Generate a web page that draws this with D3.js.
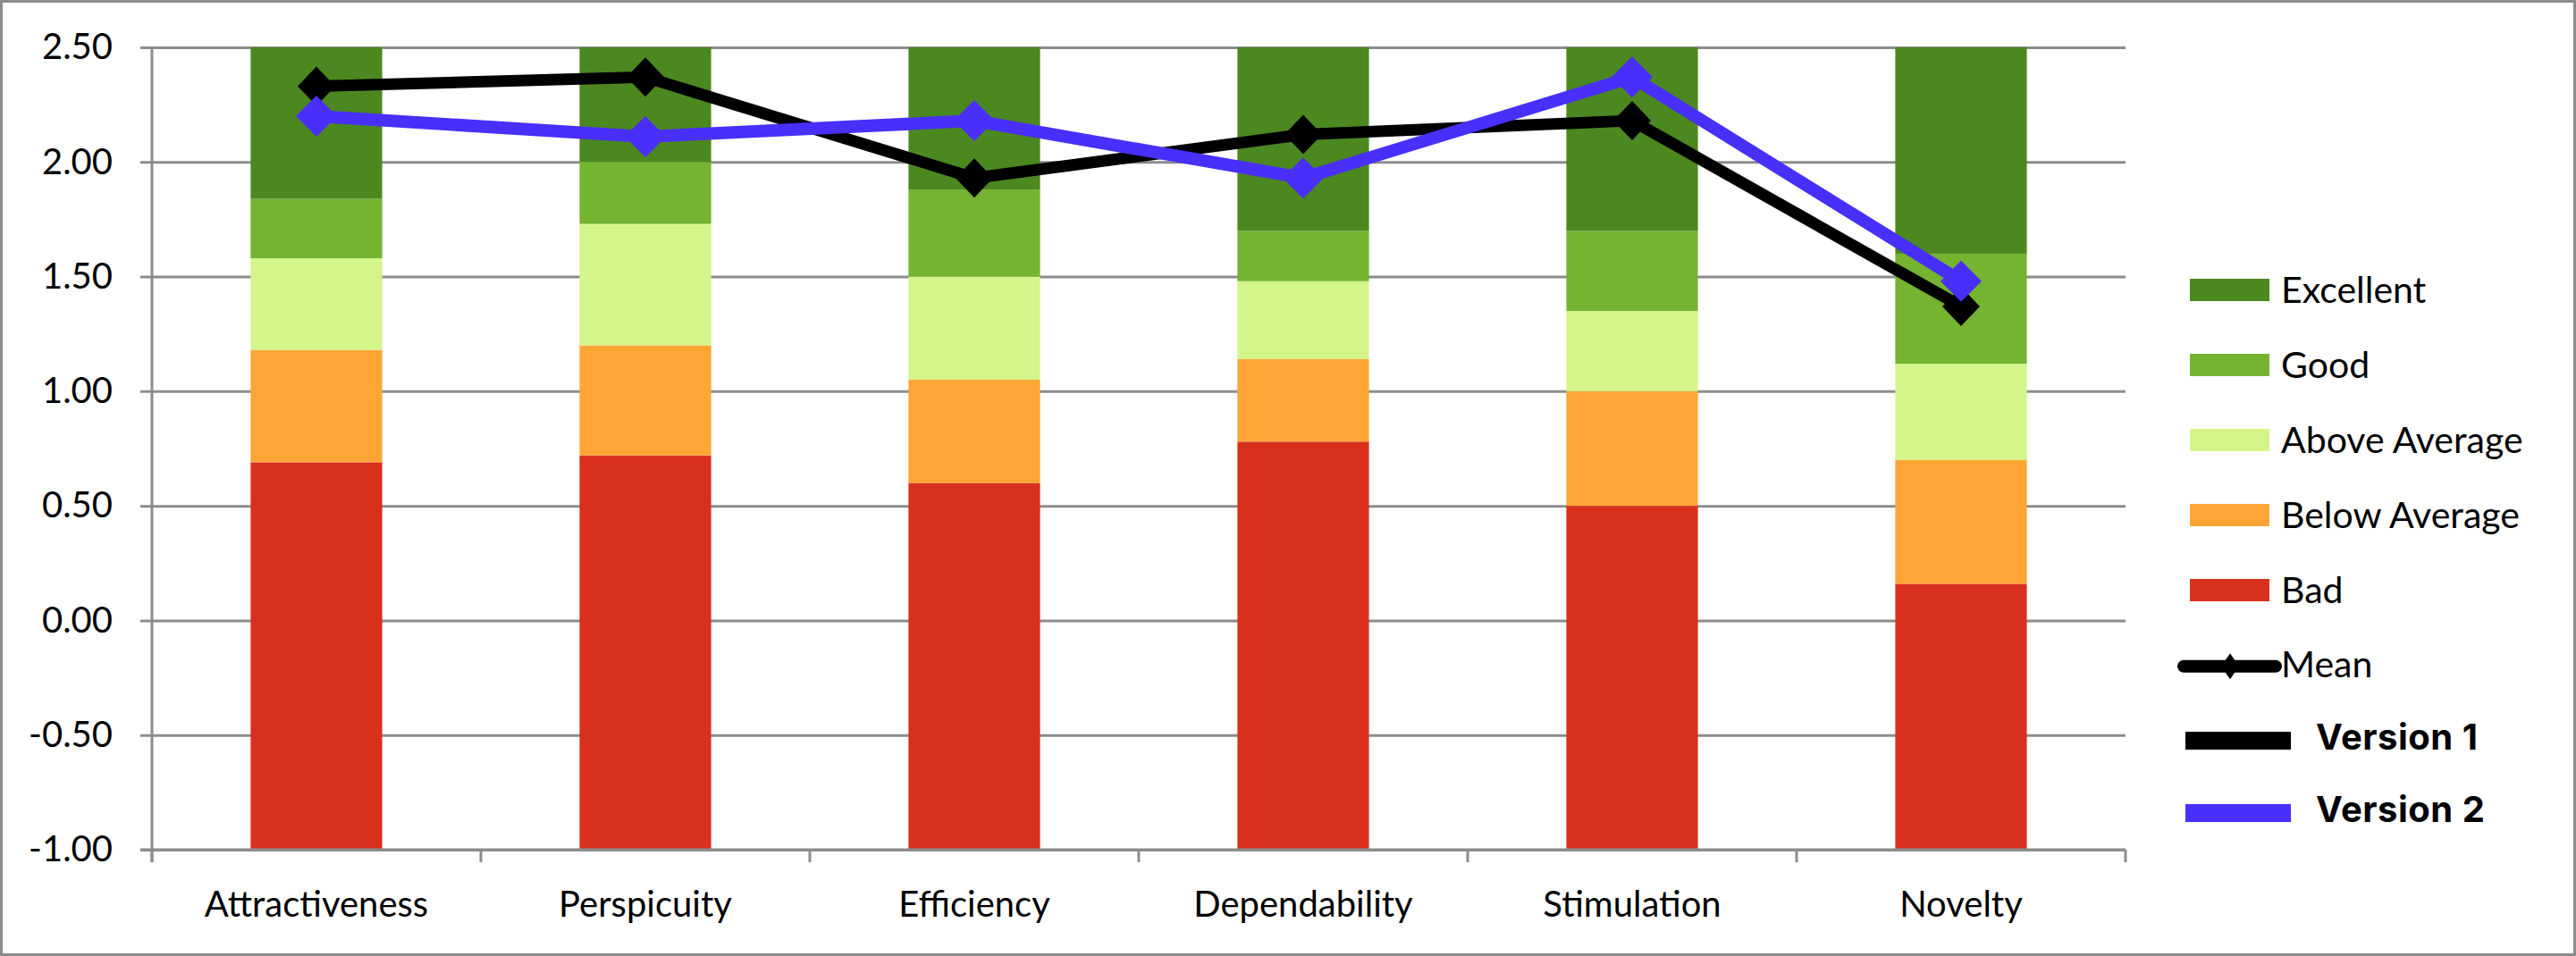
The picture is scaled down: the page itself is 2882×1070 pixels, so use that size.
<!DOCTYPE html>
<html>
<head>
<meta charset="utf-8">
<script src="https://cdn.jsdelivr.net/npm/d3@7"></script>
<style>
  html, body { margin: 0; padding: 0; background: #fff; }
  svg { display: block; }
</style>
</head>
<body>
<svg id="chart" width="2882" height="1070"></svg>
<script>
// benchmark borders (upper edge of each band) per scale
const categories = ["Attractiveness", "Perspicuity", "Efficiency", "Dependability", "Stimulation", "Novelty"];
const bad = [0.69, 0.72, 0.60, 0.78, 0.50, 0.16];
const belowAverage = [1.18, 1.20, 1.05, 1.14, 1.00, 0.70];
const aboveAverage = [1.58, 1.73, 1.50, 1.48, 1.35, 1.12];
const good = [1.84, 2.00, 1.88, 1.70, 1.70, 1.60];
const excellent = [2.50, 2.50, 2.50, 2.50, 2.50, 2.50];

// mean values of the two versions
const version1 = [2.33, 2.37, 1.93, 2.12, 2.18, 1.37];
const version2 = [2.20, 2.11, 2.18, 1.93, 2.37, 1.48];

const yTicks = [-1, -0.5, 0, 0.5, 1, 1.5, 2, 2.5];

const bands = [
  { name: "Bad", values: bad, color: "#d9301e" },
  { name: "Below Average", values: belowAverage, color: "#ffa535" },
  { name: "Above Average", values: aboveAverage, color: "#d4f58a" },
  { name: "Good", values: good, color: "#74b430" },
  { name: "Excellent", values: excellent, color: "#4c8820" },
];

const svg = d3.select("#chart");
const gray = "#8c8c8c";
const font = "Lato, 'Open Sans', sans-serif";

const x = d3.scaleBand().domain(categories).range([170, 2378])
  .paddingInner(0.6).paddingOuter(0.3);
const y = d3.scaleLinear().domain([-1, 2.5]).range([951, 53]);

// outer frame
svg.append("rect")
  .attr("x", 1.5).attr("y", 1.5).attr("width", 2879).attr("height", 1067)
  .attr("fill", "#fff").attr("stroke", gray).attr("stroke-width", 3);

// gridlines + y axis
const yAxis = svg.append("g")
  .attr("transform", "translate(170,0)")
  .call(d3.axisLeft(y).tickValues(yTicks).tickSize(13).tickPadding(31)
    .tickFormat(d => d.toFixed(2)));
yAxis.select(".domain").remove();
yAxis.selectAll(".tick line").attr("stroke", gray).attr("stroke-width", 3)
  .attr("x1", -13).attr("x2", 2208);
yAxis.selectAll(".tick text")
  .attr("fill", "#000").style("font-family", font).style("font-size", "40px");

// stacked benchmark bars
const segs = [];
categories.forEach((c, i) => {
  let lo = -1;
  bands.forEach(b => {
    segs.push({ cat: c, lo: lo, hi: b.values[i], color: b.color });
    lo = b.values[i];
  });
});
svg.append("g").selectAll("rect").data(segs).join("rect")
  .attr("x", d => x(d.cat))
  .attr("width", x.bandwidth())
  .attr("y", d => y(d.hi))
  .attr("height", d => y(d.lo) - y(d.hi))
  .attr("fill", d => d.color);

// axis lines
svg.append("line").attr("x1", 170).attr("x2", 170).attr("y1", 53).attr("y2", 965)
  .attr("stroke", gray).attr("stroke-width", 3);
svg.append("line").attr("x1", 157).attr("x2", 2378).attr("y1", y(-1)).attr("y2", y(-1))
  .attr("stroke", gray).attr("stroke-width", 3);
const bounds = d3.range(categories.length + 1).map(i => 170 + i * x.step());
svg.append("g").selectAll("line").data(bounds).join("line")
  .attr("x1", d => d).attr("x2", d => d).attr("y1", y(-1)).attr("y2", 965)
  .attr("stroke", gray).attr("stroke-width", 3);

// category labels
svg.append("g").selectAll("text").data(categories).join("text")
  .attr("x", d => x(d) + x.bandwidth() / 2)
  .attr("y", 1026)
  .attr("text-anchor", "middle")
  .style("font-family", font).style("font-size", "40px")
  .text(d => d);

// mean lines
const cx = (d, i) => x(categories[i]) + x.bandwidth() / 2;
const diamond = (w, h) => `M0,${-h}L${w},0L0,${h}L${-w},0Z`;
const series = [
  { values: version1, color: "#000000", width: 13, w: 21, h: 22 },
  { values: version2, color: "#4830fa", width: 14, w: 23, h: 23 },
];
series.forEach(s => {
  const g = svg.append("g");
  g.append("path")
    .attr("d", d3.line().x(cx).y(d => y(d))(s.values))
    .attr("fill", "none").attr("stroke", s.color).attr("stroke-width", s.width);
  g.selectAll("path.m").data(s.values).join("path").attr("class", "m")
    .attr("transform", (d, i) => `translate(${cx(d, i)},${y(d)})`)
    .attr("d", diamond(s.w, s.h))
    .attr("fill", s.color);
});

// legend
const lg = svg.append("g");
bands.slice().reverse().forEach((b, i) => {
  const cy = 324.5 + i * 84;
  lg.append("rect").attr("x", 2450).attr("y", cy - 12.5).attr("width", 89).attr("height", 25)
    .attr("fill", b.color);
  lg.append("text").attr("x", 2552).attr("y", cy + 14)
    .style("font-family", font).style("font-size", "41px").text(b.name);
});
lg.append("line").attr("x1", 2443).attr("x2", 2546).attr("y1", 745.7).attr("y2", 745.7)
  .attr("stroke", "#000").attr("stroke-width", 14).attr("stroke-linecap", "round");
lg.append("path").attr("transform", "translate(2495,745.7)").attr("d", diamond(10, 14.5));
lg.append("text").attr("x", 2552).attr("y", 758)
  .style("font-family", font).style("font-size", "41px").text("Mean");

[{ name: "Version 1", color: "#000000", top: 819 }, { name: "Version 2", color: "#4830fa", top: 900 }]
  .forEach(v => {
    lg.append("rect").attr("x", 2445).attr("y", v.top).attr("width", 118).attr("height", 20)
      .attr("fill", v.color);
    lg.append("text").attr("x", 2591).attr("y", v.top + 20)
      .style("font-family", "Inter, 'Open Sans', sans-serif").style("font-weight", 700)
      .style("font-size", "40px").style("letter-spacing", "0.5px").text(v.name);
  });
</script>
</body>
</html>
